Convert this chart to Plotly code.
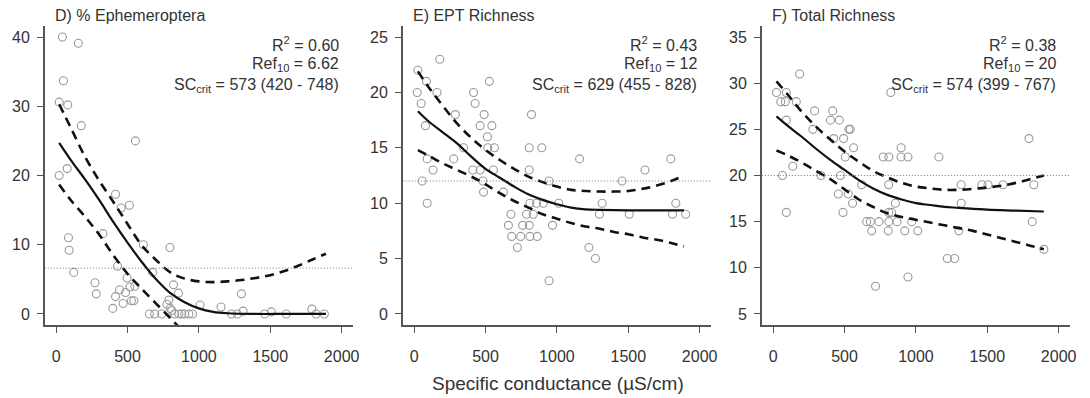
import plotly.graph_objects as go

# ---------------- data ----------------
# Panel D: % Ephemeroptera
D_x = [44,155,51,21,81,176,555,21,77,416,455,513,86,91,328,611,797,123,430,676,
       272,281,397,416,444,469,486,516,527,544,551,497,653,690,740,776,790,800,810,822,
       830,857,860,880,900,930,955,1008,1155,1229,1270,1298,1310,1461,1507,1612,1791,1821,1879]
D_y = [40,39.1,33.7,30.6,30.2,27.2,25,20,21,17.3,15.3,15.7,11,9.2,11.6,10,9.6,6,6.9,6,
       4.5,2.9,0.8,2.5,3.5,1.5,3.1,3.9,1.9,1.9,4.0,5.2,0,0,0,1.4,2.0,0.8,0.5,4.2,
       0,3.0,0,0,0,0,0,1.3,1.0,0,0,2.9,0.4,0,0.3,0,0.7,0,0]
D_fit_x = [21,100,200,300,400,500,600,700,800,900,1000,1100,1200,1400,1600,1890]
D_fit_y = [24.7,22.3,19.5,16.5,13.3,10.3,7.5,5.0,3.0,1.7,0.8,0.3,0.1,0,0,0]
D_up_x = [21,100,200,300,400,500,600,700,800,900,1000,1100,1200,1300,1400,1500,1600,1700,1800,1890]
D_up_y = [30.3,27.0,22.8,19.3,16.2,13.0,9.9,7.8,6.0,5.1,4.7,4.6,4.7,4.9,5.2,5.6,6.2,7.0,7.9,8.7]
D_lo_x = [21,100,200,300,400,500,600,700,800,860]
D_lo_y = [18.7,16.5,14.1,11.5,8.5,5.8,3.6,1.5,-0.6,-1.9]

# Panel E: EPT Richness
E_x = [26,179,86,21,160,49,288,79,277,91,132,56,416,427,527,490,462,544,513,516,
       562,346,411,462,555,481,486,625,806,894,822,806,945,811,857,904,1013,678,787,834,
       660,760,806,969,683,746,811,862,723,945,1159,1798,1617,1456,1317,1833,1298,1507,1810,1902,
       1224,1270,91]
E_y = [22,23,21,20,20,19,18,17,14,14,13,12,20,19,21,18,17,17,16,15,
       15,15,13,13,13,12,11,11,15,15,18,13,12,10,10,10,10,9,9,9,
       8,8,8,8,7,7,7,7,6,3,14,14,13,12,10,10,9,9,9,9,
       6,5,10]
E_fit_x = [26,100,200,300,400,500,600,700,800,900,1000,1100,1200,1300,1500,1700,1890]
E_fit_y = [18.3,17.4,16.4,15.4,14.2,13.1,12.3,11.5,10.8,10.3,9.9,9.6,9.45,9.4,9.35,9.35,9.35]
E_up_x = [26,100,200,300,400,500,600,700,800,900,1000,1100,1200,1300,1400,1500,1600,1700,1800,1890]
E_up_y = [21.9,20.5,18.8,17.2,15.9,14.8,13.9,13.1,12.4,11.9,11.5,11.2,11.1,11.05,11.05,11.1,11.3,11.6,12.0,12.5]
E_lo_x = [26,100,200,300,400,500,600,700,800,900,1000,1100,1200,1300,1400,1500,1600,1700,1800,1890]
E_lo_y = [14.8,14.3,13.6,13.0,12.4,11.7,10.9,10.2,9.6,9.0,8.6,8.2,7.9,7.7,7.4,7.2,6.9,6.7,6.4,6.1]

# Panel F: Total Richness
F_x = [185,23,92,53,85,162,824,290,417,401,463,92,278,530,540,424,493,563,505,137,
       65,334,471,620,809,456,526,556,489,92,771,810,896,896,944,1161,1792,1317,1462,1505,
       1610,1826,1317,856,810,830,655,681,690,741,810,868,971,806,922,1013,1301,1815,717,944,
       1220,1271,1896]
F_y = [31,29,29,28,28,28,29,27,27,26,26,26,25,25,25,24,24,23,22,21,
       20,20,20,19,19,18,18,17,16,16,22,22,23,22,22,22,24,19,19,19,
       19,19,17,17,16,16,15,15,14,15,15,15,15,14,14,14,14,15,8,9,
       11,11,12]
F_fit_x = [23,100,200,300,400,500,600,700,800,900,1000,1100,1200,1300,1500,1700,1896]
F_fit_y = [26.4,25.4,24.2,22.9,21.7,20.6,19.5,18.6,17.9,17.4,17.0,16.8,16.6,16.5,16.3,16.2,16.1]
F_up_x = [23,100,200,300,400,500,600,700,800,900,1000,1100,1200,1300,1400,1500,1600,1700,1800,1896]
F_up_y = [30.2,28.8,26.9,25.3,23.9,22.6,21.5,20.5,19.8,19.2,18.8,18.6,18.45,18.45,18.55,18.7,18.9,19.2,19.6,20.0]
F_lo_x = [23,100,200,300,400,500,600,700,800,900,1000,1100,1200,1300,1400,1500,1600,1700,1800,1896]
F_lo_y = [22.7,22.2,21.4,20.5,19.6,18.5,17.4,16.6,15.9,15.5,15.2,14.9,14.6,14.3,14.0,13.6,13.2,12.8,12.4,12.0]

titles = ["D) % Ephemeroptera", "E) EPT Richness", "F) Total Richness"]
r2 = ["0.60", "0.43", "0.38"]
ref10 = [6.62, 12, 20]
ref10_lbl = ["6.62", "12", "20"]
sccrit = ["573 (420 - 748)", "629 (455 - 828)", "574 (399 - 767)"]
y_ticks = [[0, 10, 20, 30, 40], [0, 5, 10, 15, 20, 25], [5, 10, 15, 20, 25, 30, 35]]
y_ranges = [[-1.6, 41.6], [-1, 26], [3.8, 36.2]]
x_ticks = [0, 500, 1000, 1500, 2000]
x_title = "Specific conductance (\u00b5S/cm)"

# ---------------- layout geometry ----------------
W, H = 1090, 398
px_dom = [(45, 355), (405, 715), (766, 1076)]
py_top, py_bot = 26, 325
ydom = [1 - py_bot / H, 1 - py_top / H]

panels = [
    (D_x, D_y, D_fit_x, D_fit_y, D_up_x, D_up_y, D_lo_x, D_lo_y),
    (E_x, E_y, E_fit_x, E_fit_y, E_up_x, E_up_y, E_lo_x, E_lo_y),
    (F_x, F_y, F_fit_x, F_fit_y, F_up_x, F_up_y, F_lo_x, F_lo_y),
]

fig = go.Figure()
FONT = "Liberation Sans, Arial, sans-serif"
TXT = "#333333"
AX = "#555555"
layout = dict(
    width=W, height=H,
    margin=dict(l=0, r=0, t=0, b=0),
    paper_bgcolor="white", plot_bgcolor="white",
    showlegend=False,
    font=dict(family=FONT, color=TXT, size=16),
)
annotations = []
shapes = []

for i, (px_, py_, fx, fy, ux, uy, lx, ly) in enumerate(panels):
    n = "" if i == 0 else str(i + 1)
    xa, ya = "x" + n, "y" + n
    fig.add_trace(go.Scatter(x=px_, y=py_, mode="markers", xaxis=xa, yaxis=ya,
                             marker=dict(symbol="circle-open", size=8, color="#9a9a9a",
                                         line=dict(width=1.1))))
    fig.add_trace(go.Scatter(x=ux, y=uy, mode="lines", xaxis=xa, yaxis=ya, line_shape="spline",
                             line=dict(color="#111111", width=2.6, dash="9px,6px")))
    fig.add_trace(go.Scatter(x=lx, y=ly, mode="lines", xaxis=xa, yaxis=ya, line_shape="spline",
                             line=dict(color="#111111", width=2.6, dash="9px,6px")))
    fig.add_trace(go.Scatter(x=fx, y=fy, mode="lines", xaxis=xa, yaxis=ya, line_shape="spline",
                             line=dict(color="#111111", width=2.2)))
    x0, x1 = px_dom[i]
    layout["xaxis" + n] = dict(
        domain=[x0 / W, x1 / W], range=[-80, 2080], anchor=ya,
        tickvals=x_ticks, ticktext=[str(v) for v in x_ticks],
        showline=True, linecolor=AX, linewidth=1.5, mirror=False,
        ticks="outside", ticklen=6, tickwidth=1.2, tickcolor=AX,
        showgrid=False, zeroline=False, ticklabelstandoff=10,
        tickfont=dict(size=16, color=TXT, family=FONT),
    )
    layout["yaxis" + n] = dict(
        domain=ydom, range=y_ranges[i], anchor=xa,
        tickvals=y_ticks[i], ticktext=[str(v) for v in y_ticks[i]],
        showline=True, linecolor=AX, linewidth=1.5, mirror=False,
        ticks="outside", ticklen=6, tickwidth=1.2, tickcolor=AX,
        showgrid=False, zeroline=False, ticklabelstandoff=4,
        tickfont=dict(size=16, color=TXT, family=FONT),
    )
    # reference dotted line
    shapes.append(dict(type="line", xref=xa + " domain", yref=ya, x0=0, x1=1,
                       y0=ref10[i], y1=ref10[i],
                       line=dict(color="#777777", width=1, dash="1px,2px")))
    # panel title
    annotations.append(dict(text=titles[i], xref="paper", yref="paper",
                            x=(x0 + 8) / W, y=1 - 16 / H, xanchor="left", yanchor="middle",
                            showarrow=False, font=dict(size=16, color=TXT, family=FONT)))
    # stats text
    xr = (x1 - 12) / W
    lines = ["R<sup>2</sup> = " + r2[i],
             "Ref<sub>10</sub> = " + ref10_lbl[i],
             "SC<sub>crit</sub> = " + sccrit[i]]
    for t, yy in zip(lines, [44, 64, 86]):
        annotations.append(dict(text=t, xref="paper", yref="paper", x=xr, y=1 - yy / H,
                                xanchor="right", yanchor="middle", showarrow=False,
                                font=dict(size=16, color=TXT, family=FONT)))

annotations.append(dict(text=x_title, xref="paper", yref="paper", x=561 / W, y=1 - 383 / H,
                        xanchor="center", yanchor="middle", showarrow=False,
                        font=dict(size=19, color=TXT, family=FONT)))
layout["annotations"] = annotations
layout["shapes"] = shapes
fig.update_layout(**layout)
fig.write_html("out.html",
               config={"displayModeBar": False},
               post_script="document.body.style.margin='0';document.body.style.overflow='hidden';")
